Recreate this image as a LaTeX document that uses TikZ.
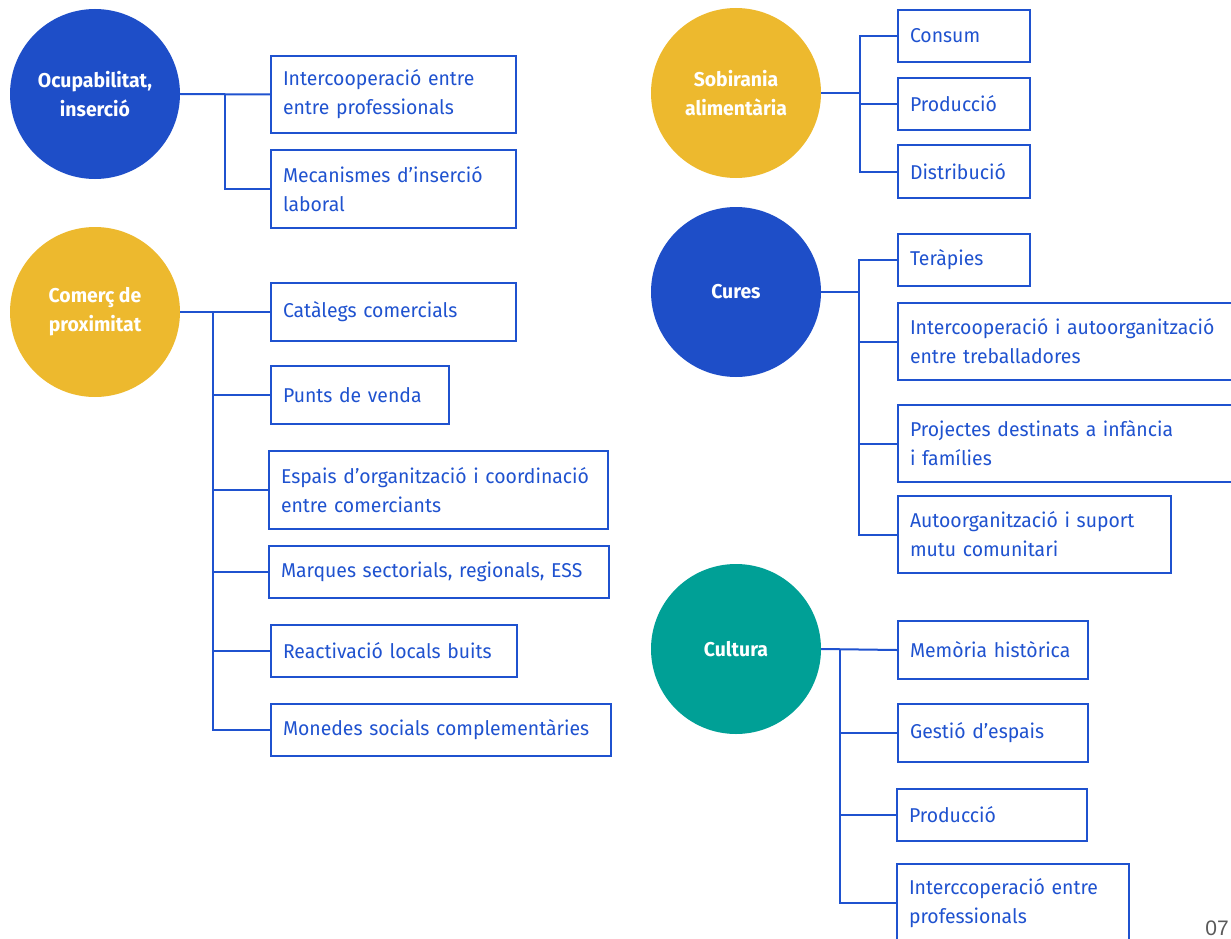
\documentclass[tikz,border=0pt]{standalone}
\usepackage{fontspec}
\setmainfont[FakeStretch=0.97]{Fira Sans}
\newfontfamily\pagefont{Liberation Sans}
\usepackage{xcolor}
\usetikzlibrary{calc}
\definecolor{temablue}{RGB}{30,78,200}
\definecolor{lineblue}{RGB}{31,82,207}
\definecolor{temayellow}{RGB}{237,185,46}
\definecolor{temateal}{RGB}{0,160,150}
\newcommand\nohyph{\hyphenpenalty=10000\relax}

\begin{document}
\begin{tikzpicture}[x=1pt,y=-1pt,
  tema/.style={circle, fill=#1, minimum size=170pt, inner sep=0pt, text=white, align=center, font=\fontsize{20}{29}\selectfont\bfseries},
  item/.style 2 args={draw=lineblue, line width=2pt, anchor=north west, inner xsep=12pt, inner ysep=0pt, text width=#1, minimum height=#2, align=left, text=lineblue, font=\fontsize{20}{29}\selectfont, execute at begin node=\nohyph},
  link/.style={draw=lineblue, line width=2pt},
]
\useasboundingbox (0,0) rectangle (1231,939);

\node[tema=temablue] (ocu) at (95,94) {Ocupabilitat,\\inserció};
\node[tema=temayellow] (com) at (95,312) {Comerç de\\proximitat};
\node[tema=temayellow] (sob) at (736,93) {Sobirania\\alimentària};
\node[tema=temablue] (cur) at (736,292) {Cures};
\node[tema=temateal] (cul) at (736,649) {Cultura};

\node[item={221pt}{77pt}] (i1) at (270,55) {Intercooperació entre\\entre professionals};
\node[item={221pt}{78pt}] (i2) at (270,149) {Mecanismes d’inserció\\laboral};

\node[item={221pt}{58pt}] (c1) at (270,282) {Catàlegs comercials};
\node[item={154pt}{58pt}] (c2) at (270,365) {Punts de venda};
\node[item={315pt}{78pt}] (c3) at (268,450) {Espais d’organització i coordinació\\entre comerciants};
\node[item={316pt}{52pt}] (c4) at (268,545) {Marques sectorials, regionals, ESS};
\node[item={222pt}{52pt}] (c5) at (270,624) {Reactivació locals buits};
\node[item={316pt}{52pt}] (c6) at (270,703) {Monedes socials complementàries};

\node[item={108pt}{52pt}] (s1) at (897,9) {Consum};
\node[item={108pt}{52pt}] (s2) at (897,77) {Producció};
\node[item={108pt}{53pt}] (s3) at (897,144) {Distribució};

\node[item={108pt}{52pt}] (r1) at (897,233) {Teràpies};
\node[item={330pt}{77pt}] (r2) at (897,302) {Intercooperació i autoorganització\\entre treballadores};
\node[item={330pt}{77pt}] (r3) at (897,404) {Projectes destinats a infància\\i famílies};
\node[item={249pt}{77pt}] (r4) at (897,495) {Autoorganització i suport\\mutu comunitari};

\node[item={166pt}{58pt}] (u1) at (897,620) {Memòria històrica};
\node[item={166pt}{58pt}] (u2) at (897,703) {Gestió d’espais};
\node[item={166pt}{52pt}] (u3) at (896,788) {Producció};
\node[item={208pt}{78pt}] (u4) at (896,863) {Interccoperació entre\\professionals};

\coordinate (t1) at (225,0);
\coordinate (t2) at (213,0);
\coordinate (t3) at (860,0);
\coordinate (t4) at (859,0);
\coordinate (t5) at (840,0);

\draw[link] (ocu.east) -- (i1.west);
\draw[link] (ocu.east -| t1) |- (i2.west);

\draw[link] (com.east) -- (c1.west);
\draw[link] (com.east -| t2) |- (c6.west);
\foreach \n in {c2,c3,c4,c5}
  \draw[link] (\n.west -| t2) -- (\n.west);

\draw[link] (sob.east) -- (sob.east -| t3);
\draw[link] (s1.west) -- (s1.west -| t3) -- (s3.west -| t3) -- (s3.west);
\draw[link] (s2.west -| t3) -- (s2.west);

\draw[link] (cur.east) -- (cur.east -| t4);
\draw[link] (r1.west) -- (r1.west -| t4) -- (r4.west -| t4) -- (r4.west);
\foreach \n in {r2,r3}
  \draw[link] (\n.west -| t4) -- (\n.west);

\draw[link] (cul.east) -- (u1.west);
\draw[link] (u1.west -| t5) -- (u4.west -| t5) -- (u4.west);
\foreach \n in {u2,u3}
  \draw[link] (\n.west -| t5) -- (\n.west);

\node[anchor=base east, inner sep=0pt, text=black!65, font=\pagefont\fontsize{21}{24}\selectfont] (pg) at (1229,935) {07};
\end{tikzpicture}
\end{document}
